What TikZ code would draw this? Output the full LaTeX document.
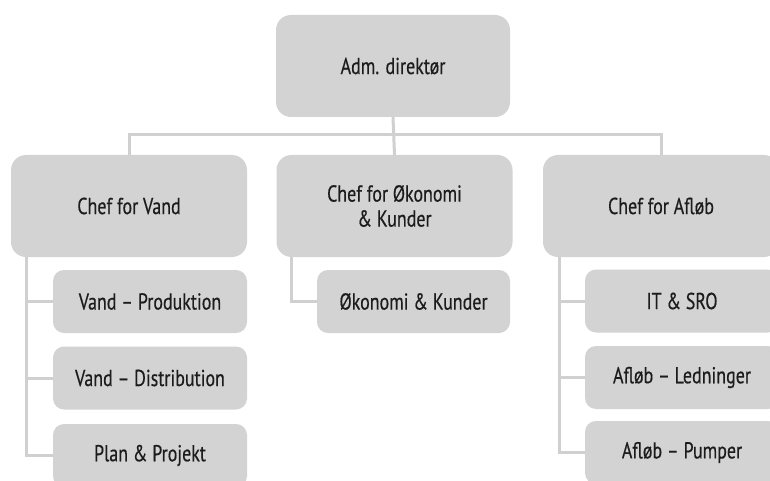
\documentclass[tikz,border=0pt]{standalone}
\usepackage{fontspec}
\setmainfont{PT Sans}[FakeStretch=0.78, FakeBold=0.4]
\definecolor{boxgray}{RGB}{211,211,211}
\definecolor{linegray}{RGB}{208,208,208}
\definecolor{inkgray}{RGB}{28,28,28}
\begin{document}
\begin{tikzpicture}[x=1pt,y=-1pt,
  unit/.style={fill=boxgray, draw=none, text=inkgray, align=center,
    font=\fontsize{23}{25}\selectfont, inner sep=0pt},
  chief/.style={unit, minimum width=236pt, minimum height=102pt, rounded corners=15pt},
  dept/.style={unit, minimum width=194pt, minimum height=63pt, rounded corners=11pt},
  link/.style={draw=linegray, line width=3pt}]
\useasboundingbox (0,0) rectangle (770,481);

% director
\node[chief, minimum width=234pt] (dir) at (393,66) {Adm. direktør};

% chiefs
\node[chief] (vand) at (129,206) {Chef for Vand};
\node[chief] (oek)  at (394.5,206) {Chef for Økonomi\\\& Kunder};
\node[chief] (afl)  at (661,206) {Chef for Afløb};

% departments under Vand
\node[dept] (vprod) at (150,301.5) {Vand – Produktion};
\node[dept] (vdist) at (150,378)   {Vand – Distribution};
\node[dept] (plan)  at (150,455.5) {Plan \& Projekt};

% department under Økonomi
\node[dept, minimum width=193pt] (oekk) at (413.5,301.5) {Økonomi \& Kunder};

% departments under Afløb
\node[dept] (it)   at (682,301)   {IT \& SRO};
\node[dept] (aled) at (682,377.5) {Afløb – Ledninger};
\node[dept] (apum) at (682,452.5) {Afløb – Pumper};

% top level links
\draw[link] (dir.south) -- (oek.north);
\draw[link] (vand.north) -- ++(0,-20) -| (afl.north);

% trunks for department lists
\coordinate (vtrunk) at ([xshift=16pt]vand.south west);
\coordinate (otrunk) at ([xshift=15pt]oek.south west);
\coordinate (atrunk) at ([xshift=17pt]afl.south west);

\draw[link] (vtrunk) |- (plan.west);
\draw[link] (vprod.west) -- (vprod.west -| vtrunk);
\draw[link] (vdist.west) -- (vdist.west -| vtrunk);

\draw[link] (otrunk) |- (oekk.west);

\draw[link] (atrunk) |- (apum.west);
\draw[link] (it.west) -- (it.west -| atrunk);
\draw[link] (aled.west) -- (aled.west -| atrunk);
\end{tikzpicture}
\end{document}
